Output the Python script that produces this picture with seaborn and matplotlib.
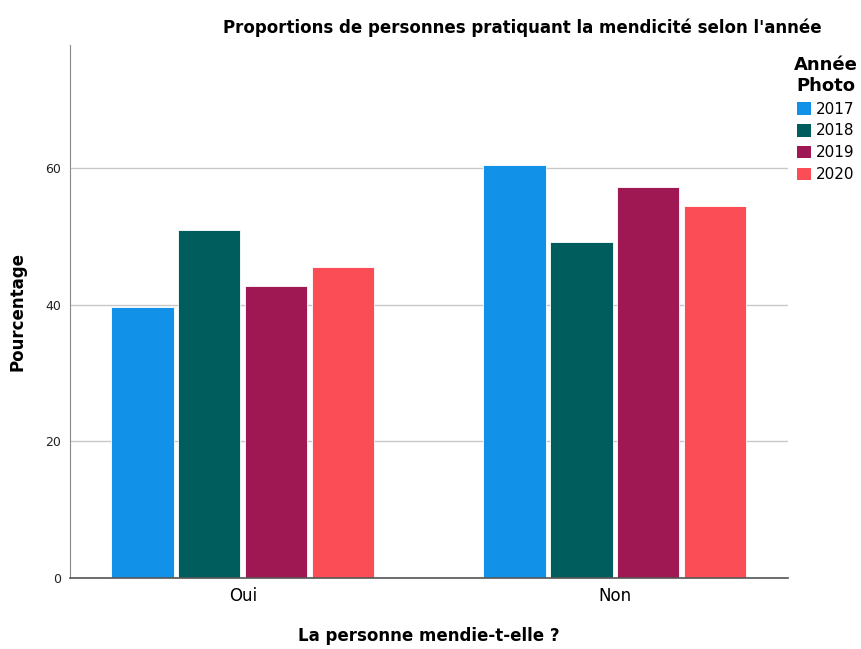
import matplotlib
matplotlib.use("Agg")
import matplotlib.pyplot as plt
import seaborn as sns
import pandas as pd

categories = ["Oui", "Non"]
years = ["2017", "2018", "2019", "2020"]
val_2017 = [39.6, 60.4]
val_2018 = [50.9, 49.1]
val_2019 = [42.8, 57.2]
val_2020 = [45.5, 54.5]
colors = ["#1192e8", "#005d5d", "#9f1853", "#fa4d56"]

rows = []
for y, vals in zip(years, [val_2017, val_2018, val_2019, val_2020]):
    for c, v in zip(categories, vals):
        rows.append({"cat": c, "year": y, "pct": v})
df = pd.DataFrame(rows)

sns.set_style("white")
plt.rcParams['font.family'] = ['DejaVu Sans']
plt.rcParams['text.color'] = 'black'
plt.rcParams['axes.labelcolor'] = 'black'

fig = plt.figure(figsize=(8.62, 6.49), dpi=100)
ax = fig.add_axes([0.081, 0.109, 0.833, 0.822])
sns.barplot(data=df, x="cat", y="pct", hue="year", order=categories, hue_order=years,
            palette=colors, width=0.72, gap=0.07, saturation=1, ax=ax, legend=False,
            linewidth=0.6, edgecolor="white")
ax.set_xlim(-0.465, 1.465)
ax.set_ylim(0, 78)
ax.set_yticks([0, 20, 40, 60])
ax.yaxis.grid(True, color="#c8c8c8", linewidth=1)
ax.set_axisbelow(True)
for s in ["top", "right"]:
    ax.spines[s].set_visible(False)
ax.spines["left"].set_color("#888888")
ax.spines["bottom"].set_color("#555555")
ax.spines["bottom"].set_linewidth(1.2)
ax.tick_params(axis="y", labelsize=9, length=0, pad=6, colors="#222222")
ax.tick_params(axis="x", labelsize=12, length=0, pad=6, colors="black")
ax.set_ylabel("Pourcentage", fontsize=12, fontweight="bold", labelpad=14)
ax.set_xlabel("La personne mendie-t-elle ?", fontsize=12, fontweight="bold", labelpad=16)

fig.text(0.606, 0.957, "Proportions de personnes pratiquant la mendicité selon l'année",
         ha="center", va="center", fontsize=12, fontweight="bold")

from matplotlib.patches import Patch
handles = [Patch(facecolor=c, edgecolor="none") for c in colors]
leg = fig.legend(handles, years, title="Année\nPhoto", loc="upper left",
                 bbox_to_anchor=(0.905, 0.935), frameon=False, fontsize=11,
                 handlelength=0.9, handleheight=0.9, handletextpad=0.3,
                 labelspacing=0.45)
leg.get_title().set_fontweight("bold")
leg.get_title().set_fontsize(13)
leg.get_title().set_multialignment("center")

fig.savefig("out.png", dpi=100)
